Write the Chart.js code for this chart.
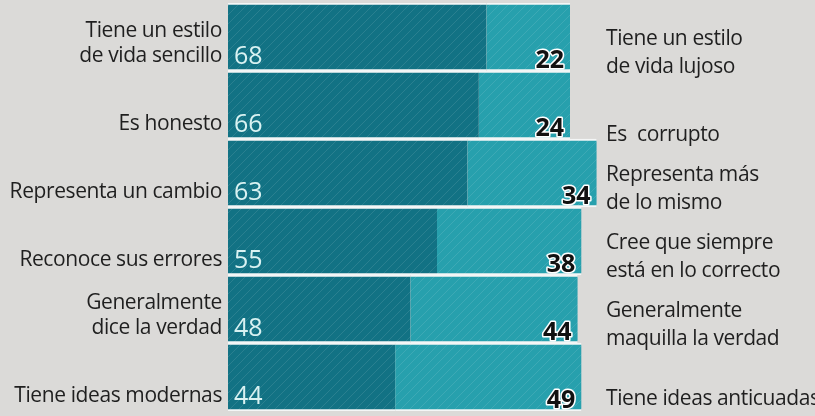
<!DOCTYPE html>
<html>
<head>
<meta charset="utf-8">
<script src="https://cdn.jsdelivr.net/npm/chart.js@4/dist/chart.umd.min.js"></script>
<style>
  html, body { margin: 0; padding: 0; background: #dbdad8; }
  #wrap { width: 815px; height: 416px; position: relative; }
</style>
</head>
<body>
<div id="wrap"><canvas id="rasgos"></canvas></div>
<script>
// atributos positivos (izquierda) y negativos (derecha)
const leftLabels = [
    ['Tiene un estilo', 'de vida sencillo'],
    ['Es honesto'],
    ['Representa un cambio'],
    ['Reconoce sus errores'],
    ['Generalmente', 'dice la verdad'],
    ['Tiene ideas modernas']
];
const rightLabels = [
    ['Tiene un estilo', 'de vida lujoso'],
    ['Es  corrupto'],
    ['Representa más', 'de lo mismo'],
    ['Cree que siempre', 'está en lo correcto'],
    ['Generalmente', 'maquilla la verdad'],
    ['Tiene ideas anticuadas']
];
const positiveValues = [68, 66, 63, 55, 48, 44];
const negativeValues = [22, 24, 34, 38, 44, 49];

// textura rayada del periódico
function makePattern(color) {
    const c = document.createElement('canvas');
    c.width = 9; c.height = 9;
    const g = c.getContext('2d');
    g.fillStyle = color;
    g.fillRect(0, 0, 9, 9);
    g.strokeStyle = 'rgba(255,255,255,0.10)';
    g.lineWidth = 1;
    g.beginPath();
    g.moveTo(-1, 10); g.lineTo(10, -1);
    g.stroke();
    return g.createPattern(c, 'repeat');
}

const labelsPlugin = {
    id: 'labelsPlugin',
    afterDatasetsDraw(chart) {
        const ctx = chart.ctx;
        const pos = chart.getDatasetMeta(0).data;
        const neg = chart.getDatasetMeta(1).data;
        ctx.save();
        ctx.textBaseline = 'alphabetic';
        pos.forEach((bar, i) => {
            const bottom = bar.y + bar.height / 2;
            // texto izquierdo
            ctx.font = '21px "Open Sans"';
            ctx.letterSpacing = '-0.4px';
            ctx.fillStyle = '#1f1f1f';
            ctx.textAlign = 'right';
            const ll = leftLabels[i];
            ll.forEach((line, j) => {
                ctx.fillText(line, bar.base - 6, bottom - 9 - (ll.length - 1 - j) * 25);
            });
            ctx.letterSpacing = '0px';
            // numero positivo
            ctx.font = '25px "Open Sans"';
            ctx.fillStyle = '#d9f2f2';
            ctx.textAlign = 'left';
            ctx.fillText(positiveValues[i], bar.base + 6, bottom - 7);

            // numero negativo
            const nb = neg[i];
            ctx.font = 'bold 25px "Open Sans"';
            ctx.textAlign = 'right';
            ctx.lineWidth = 3;
            ctx.strokeStyle = '#ffffff';
            ctx.lineJoin = 'round';
            ctx.strokeText(negativeValues[i], nb.x - 6, bottom - 3);
            ctx.fillStyle = '#111';
            ctx.fillText(negativeValues[i], nb.x - 6, bottom - 3);

            // texto derecho
            ctx.font = '21px "Open Sans"';
            ctx.letterSpacing = '-0.4px';
            ctx.fillStyle = '#1f1f1f';
            ctx.textAlign = 'left';
            const rl = rightLabels[i];
            const last = i === 5 ? bottom - 6 : bottom + 2;
            rl.forEach((line, j) => {
                ctx.fillText(line, 606, last - (rl.length - 1 - j) * 28);
            });
            ctx.letterSpacing = '0px';
        });
        ctx.restore();
    }
};

const ctx = document.getElementById('rasgos').getContext('2d');
new Chart(ctx, {
    type: 'bar',
    data: {
        labels: leftLabels.map(l => l.join(' ')),
        datasets: [{
            data: positiveValues,
            backgroundColor: makePattern('#127284'),
            borderColor: '#f4f6f6',
            borderWidth: { top: 2, bottom: 2, left: 0, right: 0 },
            borderSkipped: false
        }, {
            data: negativeValues,
            backgroundColor: makePattern('#27a0ad'),
            borderColor: '#f4f6f6',
            borderWidth: { top: 2, bottom: 2, left: 0, right: 0 },
            borderSkipped: false
        }]
    },
    options: {
        indexAxis: 'y',
        responsive: true,
        maintainAspectRatio: false,
        animation: false,
        barPercentage: 1,
        categoryPercentage: 1,
        layout: { padding: { left: 228, right: 207, top: 3, bottom: 5 } },
        plugins: { legend: { display: false }, tooltip: { enabled: false } },
        scales: {
            x: { stacked: true, min: 0, max: 100, display: false },
            y: { stacked: true, display: false }
        }
    },
    plugins: [labelsPlugin]
});
</script>
</body>
</html>
